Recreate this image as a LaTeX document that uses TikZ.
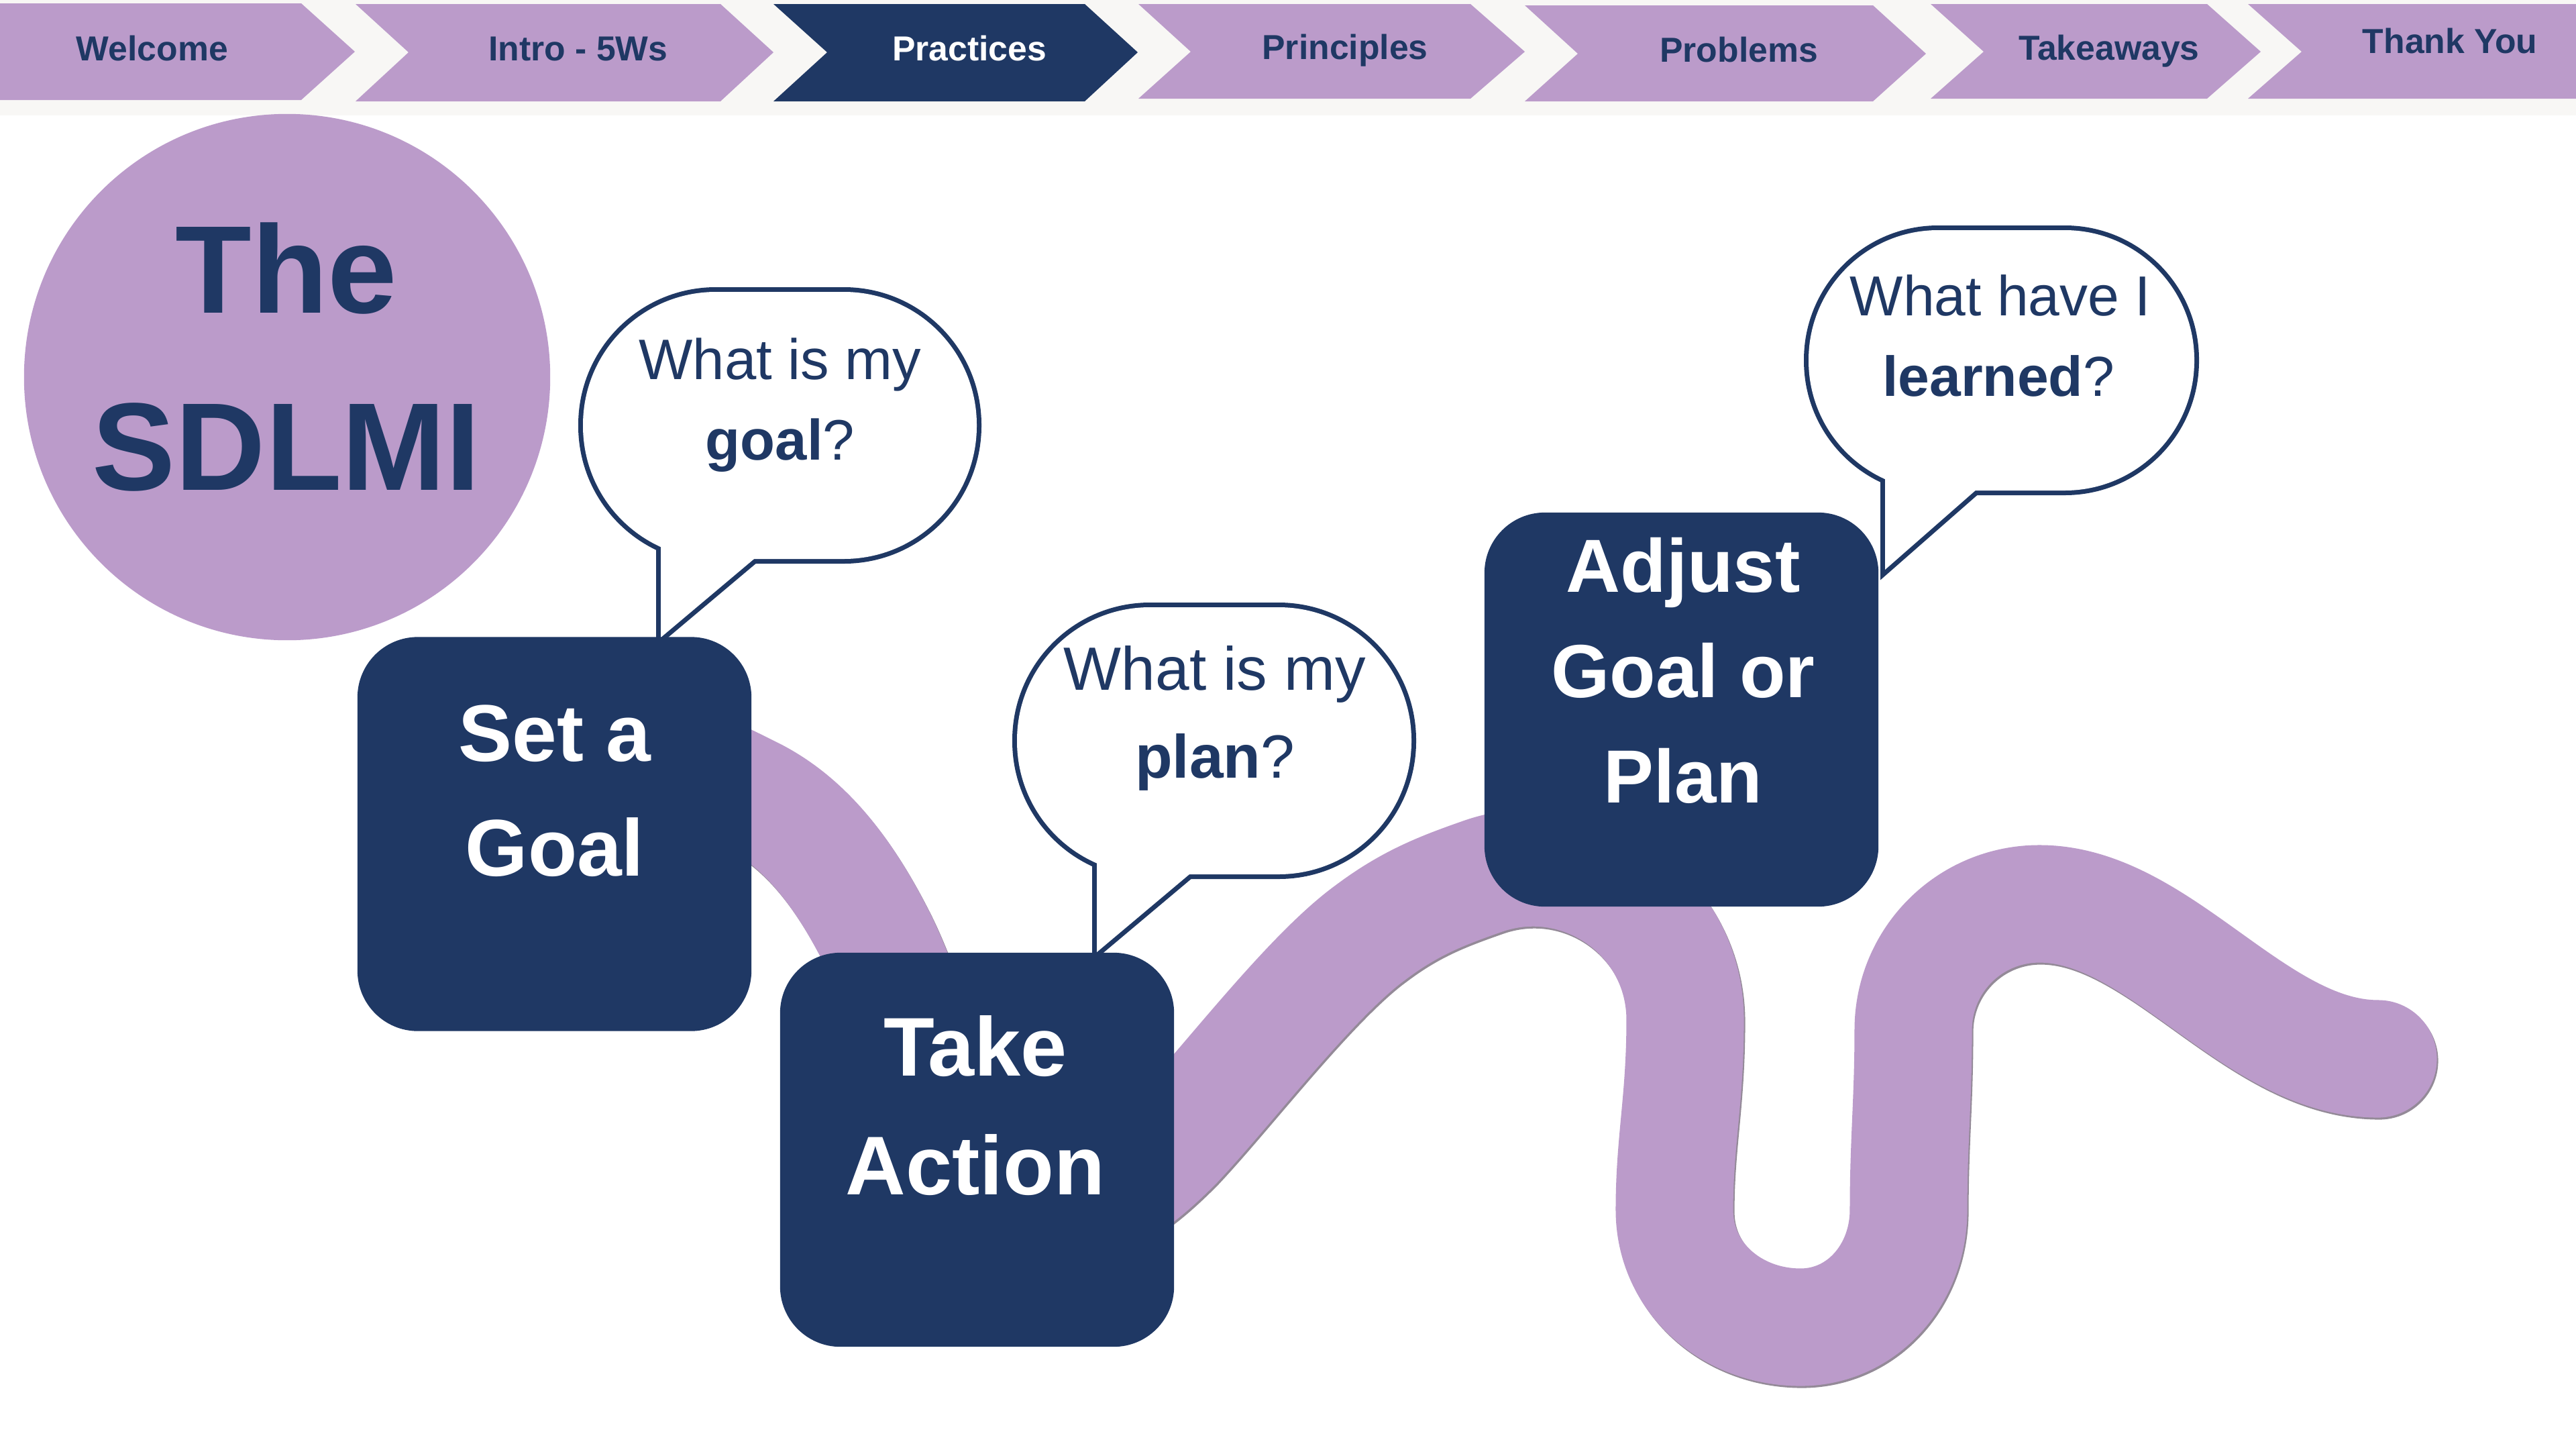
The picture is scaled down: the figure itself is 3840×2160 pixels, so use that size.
\documentclass[tikz,border=0pt]{standalone}
\usepackage{fontspec}
\setmainfont{Liberation Sans}
\definecolor{sdnavy}{HTML}{1F3864}
\definecolor{sdlav}{HTML}{BB9BCA}
\definecolor{sdbar}{HTML}{F8F7F5}
\definecolor{sdshade}{HTML}{948A98}
\begin{document}
\begin{tikzpicture}[x=0.01cm,y=-0.01cm,
  navlabel/.style={font=\fontsize{14.7pt}{17pt}\selectfont\bfseries, text=sdnavy, inner sep=0, anchor=base},
  stepbox/.style={rectangle, rounded corners=0.9cm, fill=sdnavy, draw=none, inner sep=0,
                  minimum width=5.87cm, minimum height=5.87cm},
  steptext/.style={text=white, inner sep=0, anchor=base},
  qtext/.style={text=sdnavy, inner sep=0, anchor=base},
  bubbleline/.style={draw=sdnavy, line width=0.14cm, line join=miter},
  road/.style={line width=1.75cm, line cap=round}
]
\useasboundingbox (0,0) rectangle (3840,2160);
\fill[white] (0,0) rectangle (3840,2160);

% navigation bar
\fill[sdbar] (0,0) rectangle (3840,172);
\fill[sdlav]  (0,5) -- (449,5) -- (529,77) -- (449,149) -- (0,149) -- cycle;
\fill[sdlav]  (530,6) -- (1074,6) -- (1153,78) -- (1074,151) -- (530,151) -- (609,78) -- cycle;
\fill[sdnavy] (1153,6) -- (1617,6) -- (1696,78) -- (1617,151) -- (1153,151) -- (1233,78) -- cycle;
\fill[sdlav]  (1697,6) -- (2192,6) -- (2273,77) -- (2192,147) -- (1697,147) -- (1775,77) -- cycle;
\fill[sdlav]  (2273,8) -- (2792,8) -- (2871,80) -- (2792,151) -- (2273,151) -- (2352,80) -- cycle;
\fill[sdlav]  (2878,6) -- (3290,6) -- (3370,77) -- (3290,147) -- (2878,147) -- (2957,77) -- cycle;
\fill[sdlav]  (3351,6) -- (3840,6) -- (3840,147) -- (3351,147) -- (3431,77) -- cycle;

\node[navlabel] (nwelcome) at (227,90) {Welcome};
\node[navlabel] (nintro) at (862,90) {Intro - 5Ws};
\node[navlabel, text=white] (npractices) at (1445,90) {Practices};
\node[navlabel] (nprinciples) at (2005,88) {Principles};
\node[navlabel] (nproblems) at (2592,92) {Problems};
\node[navlabel] (ntakeaways) at (3144,89) {Takeaways};
\node[navlabel] (nthanks) at (3652,79) {Thank You};

% title disc
\node[circle, fill=sdlav, minimum size=7.84cm, inner sep=0] (logo) at (428,562) {};
\node[qtext, font=\fontsize{52.9pt}{60pt}\selectfont\bfseries] (tthe) at (427,466) {The};
\node[qtext, font=\fontsize{52.9pt}{60pt}\selectfont\bfseries] (tsdlmi) at (427,730) {SDLMI};

% winding road (a faint offset copy gives the soft lower edge)
\path[road, draw=sdshade, shift={(2,3)}]
  (980,1125) .. controls (1040,1145) and (1080,1165) .. (1120,1185)
  .. controls (1200,1225) and (1258,1300) .. (1308,1400)
  .. controls (1370,1524) and (1430,1800) .. (1560,1800)
  .. controls (1640,1800) and (1690,1763) .. (1750,1703)
  .. controls (1830,1618) and (1954,1454) .. (2044,1389)
  .. controls (2104,1344) and (2153,1326) .. (2213,1305)
  .. controls (2360,1256) and (2512,1365) .. (2512,1520)
  .. controls (2512,1640) and (2496,1700) .. (2496,1803)
  .. controls (2496,1905) and (2582,1978) .. (2684,1978)
  .. controls (2776,1978) and (2845,1899) .. (2845,1803)
  .. controls (2845,1700) and (2852,1640) .. (2852,1535)
  .. controls (2852,1431) and (2936,1347) .. (3040,1347)
  .. controls (3220,1347) and (3360,1578) .. (3545,1578);
\path[road, draw=sdlav]
  (980,1125) .. controls (1040,1145) and (1080,1165) .. (1120,1185)
  .. controls (1200,1225) and (1258,1300) .. (1308,1400)
  .. controls (1370,1524) and (1430,1800) .. (1560,1800)
  .. controls (1640,1800) and (1690,1763) .. (1750,1703)
  .. controls (1830,1618) and (1954,1454) .. (2044,1389)
  .. controls (2104,1344) and (2153,1326) .. (2213,1305)
  .. controls (2360,1256) and (2512,1365) .. (2512,1520)
  .. controls (2512,1640) and (2496,1700) .. (2496,1803)
  .. controls (2496,1905) and (2582,1978) .. (2684,1978)
  .. controls (2776,1978) and (2845,1899) .. (2845,1803)
  .. controls (2845,1700) and (2852,1640) .. (2852,1535)
  .. controls (2852,1431) and (2936,1347) .. (3040,1347)
  .. controls (3220,1347) and (3360,1578) .. (3545,1578);

% speech bubbles: outline first, then white fill over the inner half
\draw[bubbleline, rounded corners=1.98cm] (869,435) rectangle (1456,833);
\draw[bubbleline] (985,760) -- (985,950) -- (1193,775) -- cycle;
\fill[white, rounded corners=1.98cm] (869,435) rectangle (1456,833);
\fill[white] (985,760) -- (985,950) -- (1193,775) -- cycle;

\draw[bubbleline, rounded corners=1.98cm] (1516,905) rectangle (2104,1303);
\draw[bubbleline] (1635,1230) -- (1635,1419) -- (1842,1245) -- cycle;
\fill[white, rounded corners=1.98cm] (1516,905) rectangle (2104,1303);
\fill[white] (1635,1230) -- (1635,1419) -- (1842,1245) -- cycle;

\draw[bubbleline, rounded corners=1.93cm] (2696,343) rectangle (3271,731);
\draw[bubbleline] (2810,650) -- (2810,849) -- (3012,672) -- cycle;
\fill[white, rounded corners=1.93cm] (2696,343) rectangle (3271,731);
\fill[white] (2810,650) -- (2810,849) -- (3012,672) -- cycle;

\node[qtext, font=\fontsize{24.2pt}{28pt}\selectfont] (qgoal1) at (1163,565) {What is my};
\node[qtext, font=\fontsize{24.2pt}{28pt}\selectfont] (qgoal2) at (1163,685) {\textbf{goal}?};
\node[qtext, font=\fontsize{25.9pt}{30pt}\selectfont] (qplan1) at (1811,1028) {What is my};
\node[qtext, font=\fontsize{25.9pt}{30pt}\selectfont] (qplan2) at (1811,1159) {\textbf{plan}?};
\node[qtext, font=\fontsize{23.9pt}{28pt}\selectfont] (qlearn1) at (2982,470) {What have I};
\node[qtext, font=\fontsize{23.9pt}{28pt}\selectfont] (qlearn2) at (2979,590) {\textbf{learned}?};

% the three steps
\node[stepbox] (setgoal) at (826.5,1243) {};
\node[stepbox] (takeaction) at (1456.5,1713.5) {};
\node[stepbox] (adjust) at (2506.5,1057.5) {};

\node[steptext, font=\fontsize{34.1pt}{40pt}\selectfont\bfseries] (sg1) at (827,1134) {Set a};
\node[steptext, font=\fontsize{34.1pt}{40pt}\selectfont\bfseries] (sg2) at (827,1305) {Goal};
\node[steptext, font=\fontsize{35.3pt}{40pt}\selectfont\bfseries] (ta1) at (1454,1603) {Take};
\node[steptext, font=\fontsize{35.3pt}{40pt}\selectfont\bfseries] (ta2) at (1454,1780) {Action};
\node[steptext, font=\fontsize{31.9pt}{38pt}\selectfont\bfseries] (ad1) at (2509,882) {Adjust};
\node[steptext, font=\fontsize{31.9pt}{38pt}\selectfont\bfseries] (ad2) at (2509,1039) {Goal or};
\node[steptext, font=\fontsize{31.9pt}{38pt}\selectfont\bfseries] (ad3) at (2509,1196) {Plan};
\end{tikzpicture}
\end{document}
